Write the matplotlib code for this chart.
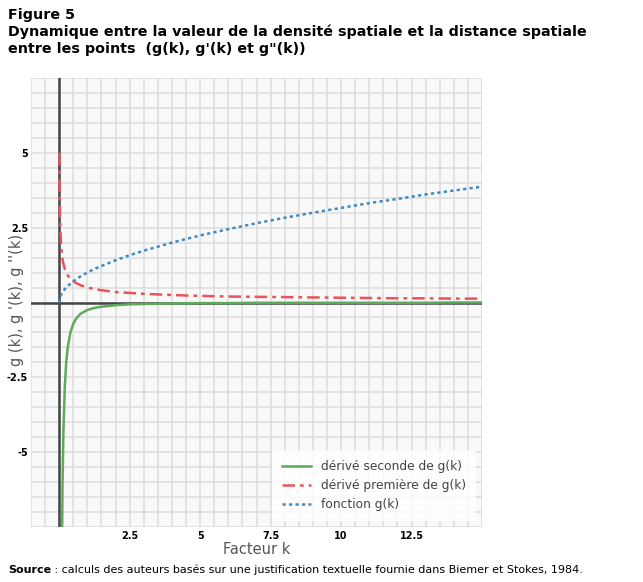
import numpy as np
import matplotlib
matplotlib.use("Agg")
import matplotlib.pyplot as plt

# Data
k = [0.0, 0.01, 0.02, 0.03, 0.05, 0.07, 0.1, 0.12, 0.15, 0.2, 0.25, 0.3, 0.4, 0.5, 0.6,
     0.75, 1, 1.25, 1.5, 2, 2.5, 3, 4, 5, 6, 7, 8, 9, 10, 11, 12, 13, 14, 15]
g = [0.0, 0.1, 0.14, 0.17, 0.22, 0.26, 0.32, 0.35, 0.39, 0.45, 0.5, 0.55, 0.63, 0.71, 0.77,
     0.87, 1.0, 1.12, 1.22, 1.41, 1.58, 1.73, 2.0, 2.24, 2.45, 2.65, 2.83, 3.0, 3.16, 3.32,
     3.46, 3.61, 3.74, 3.87]
g1 = [None, 5.0, 3.54, 2.89, 2.24, 1.89, 1.58, 1.44, 1.29, 1.12, 1.0, 0.91, 0.79, 0.71, 0.65,
      0.58, 0.5, 0.45, 0.41, 0.35, 0.32, 0.29, 0.25, 0.22, 0.2, 0.19, 0.18, 0.17, 0.16, 0.15,
      0.14, 0.14, 0.13, 0.13]
g2 = [None, None, None, None, -22.4, -13.5, -7.91, -6.01, -4.3, -2.8, -2.0, -1.52, -0.99, -0.71,
      -0.54, -0.38, -0.25, -0.18, -0.14, -0.09, -0.06, -0.05, -0.03, -0.02, -0.02, -0.01, -0.01,
      -0.01, -0.01, -0.01, -0.01, -0.01, 0.0, 0.0]

series_labels = ["dérivé seconde de g(k)", "dérivé première de g(k)", "fonction g(k)"]
xticks = [2.5, 5, 7.5, 10, 12.5]
xtick_labels = ["2.5", "5", "7.5", "10", "12.5"]
yticks = [-5, -2.5, 2.5, 5]
ytick_labels = ["-5", "-2.5", "2.5", "5"]

def arr(v):
    return np.array([np.nan if x is None else x for x in v], dtype=float)

W, H = 643, 582
fig = plt.figure(figsize=(W / 100, H / 100), dpi=100)
fig.patch.set_facecolor("white")

L, R, T, B = 31, 482, 78, 527
ax = fig.add_axes([L / W, 1 - B / H, (R - L) / W, (B - T) / H])
ax.set_facecolor("#f9f9f9")
ax.set_xlim(-1, 15)
ax.set_ylim(-7.5, 7.5)

# grid every 0.5
for xv in np.arange(-1, 15.01, 0.5):
    ax.axvline(xv, color="#dddddd", lw=1.1, zorder=0)
for yv in np.arange(-7.5, 7.51, 0.5):
    ax.axhline(yv, color="#dddddd", lw=1.1, zorder=0)
ax.axvline(0, color="#444444", lw=1.8, zorder=1)
ax.axhline(0, color="#444444", lw=1.8, zorder=1)

kk = arr(k)
l2, = ax.plot(kk, arr(g2), color="#5aab5a", lw=1.8, zorder=3, label=series_labels[0])
l1, = ax.plot(kk, arr(g1), color="#e8545a", lw=1.8, ls=(0, (5, 2, 1.5, 2)), zorder=3,
              label=series_labels[1])
l0, = ax.plot(kk, arr(g), color="#3d8ac4", lw=1.8, ls=(0, (1.3, 1.3)), zorder=3,
              label=series_labels[2])

for s in ax.spines.values():
    s.set_visible(False)
ax.tick_params(length=0)
ax.set_xticks(xticks)
ax.set_xticklabels(xtick_labels, fontsize=7, fontweight="bold")
ax.set_yticks(yticks)
ax.set_yticklabels(ytick_labels, fontsize=7, fontweight="bold")
ax.tick_params(axis="x", pad=3)
ax.tick_params(axis="y", pad=2)

fig.text(257 / W, 1 - 549 / H, "Facteur k", ha="center", va="center", fontsize=10.5,
         color="#555555")
fig.text(17 / W, 1 - 300 / H, "g (k), g '(k), g ''(k)", ha="center", va="center",
         rotation=90, fontsize=10.5, color="#555555")

leg = ax.legend(handles=[l2, l1, l0], loc="lower right", bbox_to_anchor=(1.0, 0.0),
                fontsize=8.8, frameon=True, facecolor="white", framealpha=0.85,
                edgecolor="none", fancybox=False, handlelength=2.4, borderpad=0.8,
                labelspacing=0.5)
for t in leg.get_texts():
    t.set_color("#444444")

fig.text(8 / W, 1 - 15 / H, "Figure 5", ha="left", va="center", fontsize=10.3,
         fontweight="bold")
fig.text(8 / W, 1 - 32 / H,
         "Dynamique entre la valeur de la densité spatiale et la distance spatiale",
         ha="left", va="center", fontsize=10.3, fontweight="bold")
fig.text(8 / W, 1 - 49 / H, "entre les points  (g(k), g'(k) et g\"(k))", ha="left",
         va="center", fontsize=10.3, fontweight="bold")

t1 = fig.text(8 / W, 1 - 570 / H, "Source", ha="left", va="center", fontsize=8,
              fontweight="bold")
fig.canvas.draw()
bb = t1.get_window_extent()
fig.text(bb.x1 / W, 1 - 570 / H,
         " : calculs des auteurs basés sur une justification textuelle fournie dans Biemer et Stokes, 1984.",
         ha="left", va="center", fontsize=8)

fig.savefig("out.png", dpi=100)
